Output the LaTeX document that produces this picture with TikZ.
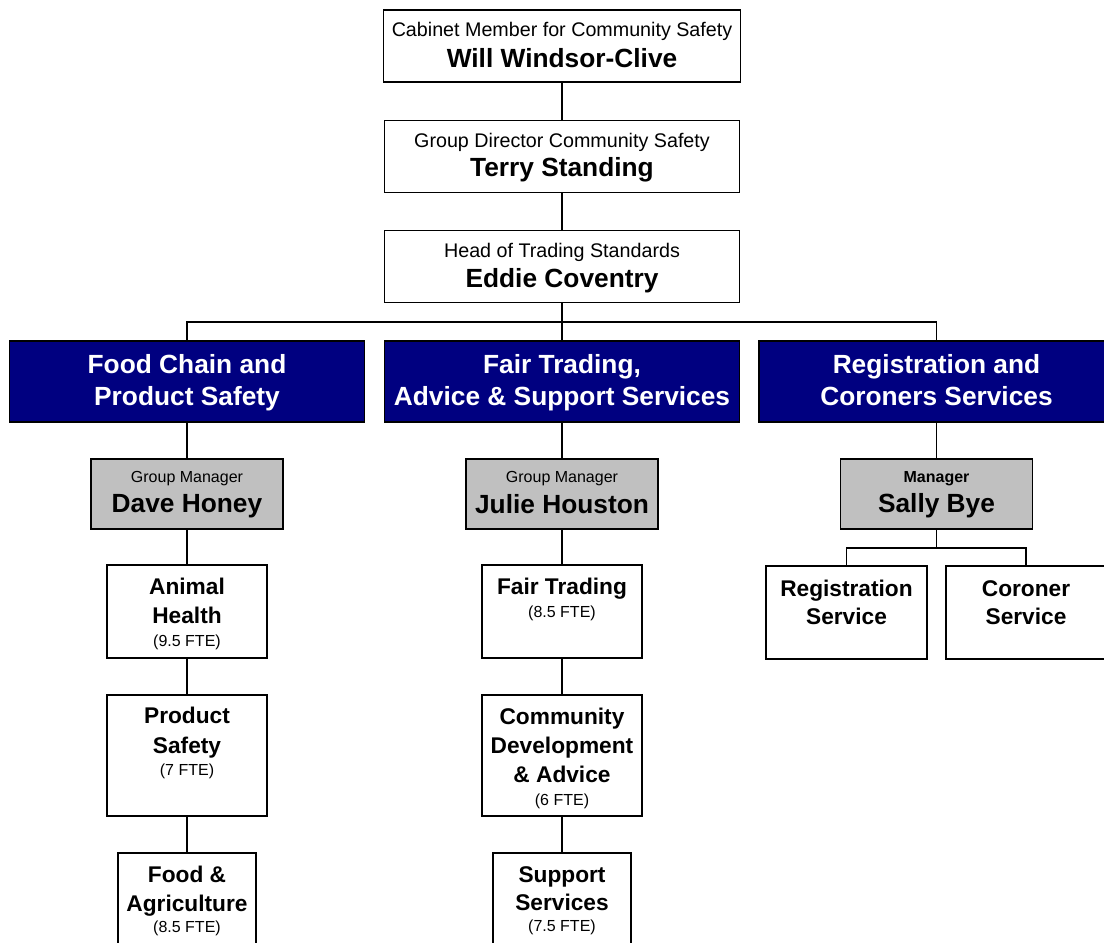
\documentclass[tikz,border=0pt]{standalone}
\usepackage{fontspec}
\setmainfont{Liberation Sans}
\definecolor{navybox}{RGB}{0,0,128}
\definecolor{greybox}{RGB}{192,192,192}
\tikzset{
    box/.style={draw=black, line width=1.1pt, fill=white, inner sep=0pt},
    headbox/.style={box, minimum width=355pt, minimum height=72pt},
    divbox/.style={box, fill=navybox, minimum width=355pt, minimum height=81pt},
    mgrbox/.style={box, fill=greybox, minimum width=192pt, minimum height=70pt},
    unitbox/.style={box, minimum width=160pt, minimum height=93pt},
    conn/.style={line width=1.1pt},
    roletext/.style={anchor=base, font=\fontsize{19.7}{24}\selectfont},
    nametext/.style={anchor=base, font=\fontsize{26.3}{31}\selectfont\bfseries},
    unittext/.style={anchor=base, font=\fontsize{22.7}{28}\selectfont\bfseries},
    ftetext/.style={anchor=base, font=\fontsize{16}{19}\selectfont},
}

\begin{document}
\begin{tikzpicture}[x=1pt, y=-1pt]
    \newcommand\posFood{187}
    \newcommand\posFair{562}
    \newcommand\posReg{936.5}

    \useasboundingbox (0, 0) rectangle (1104, 943);

    % top of the chart
    \node[headbox, minimum width=357pt] (cab) at (\posFair, 46){};
    \node[headbox] (dir) at (\posFair, 156.5){};
    \node[headbox] (head) at (\posFair, 266.5){};

    \node[roletext] (labCab) at (\posFair, 36){Cabinet Member for Community Safety};
    \node[nametext] (nameCab) at (\posFair, 67){Will Windsor-Clive};
    \node[roletext] (labDir) at (\posFair, 147){Group Director Community Safety};
    \node[nametext] (nameDir) at (\posFair, 176){Terry Standing};
    \node[roletext] (labHead) at (\posFair, 257){Head of Trading Standards};
    \node[nametext] (nameHead) at (\posFair, 287){Eddie Coventry};

    % divisions
    \node[divbox] (food) at (\posFood, 381.5){};
    \node[divbox] (fair) at (\posFair, 381.5){};
    \node[divbox] (reg) at (\posReg, 381.5){};

    \node[nametext, text=white] (labFood1) at (\posFood, 373){Food Chain and};
    \node[nametext, text=white] (labFood2) at (\posFood, 405){Product Safety};
    \node[nametext, text=white] (labFair1) at (\posFair, 373){Fair Trading,};
    \node[nametext, text=white] (labFair2) at (\posFair, 405){Advice \& Support Services};
    \node[nametext, text=white] (labReg1) at (\posReg, 373){Registration and};
    \node[nametext, text=white] (labReg2) at (\posReg, 405){Coroners Services};

    % managers
    \node[mgrbox] (dave) at (\posFood, 494){};
    \node[mgrbox] (julie) at (\posFair, 494){};
    \node[mgrbox] (sally) at (\posReg, 494){};

    \node[ftetext] (labDave) at (\posFood, 482){Group Manager};
    \node[nametext] (nameDave) at (\posFood, 512){Dave Honey};
    \node[ftetext] (labJulie) at (\posFair, 482){Group Manager};
    \node[nametext] (nameJulie) at (\posFair, 513){Julie Houston};
    \node[ftetext, font=\fontsize{16}{19}\selectfont\bfseries] (labSally) at (\posReg, 482){Manager};
    \node[nametext] (nameSally) at (\posReg, 512){Sally Bye};

    % teams
    \node[unitbox] (animal) at (\posFood, 611.5){};
    \node[unitbox, minimum height=121pt] (product) at (\posFood, 755.5){};
    \node[unitbox, minimum width=138pt, minimum height=130pt] (agri) at (\posFood, 918){};
    \node[unitbox] (trading) at (\posFair, 611.5){};
    \node[unitbox, minimum height=121pt] (community) at (\posFair, 755.5){};
    \node[unitbox, minimum width=138pt, minimum height=130pt] (support) at (\posFair, 918){};
    \node[unitbox, minimum width=161pt] (regsvc) at (846.5, 612.5){};
    \node[unitbox] (corsvc) at (1026, 612.5){};

    \node[unittext] (labAnimal1) at (\posFood, 594){Animal};
    \node[unittext] (labAnimal2) at (\posFood, 623){Health};
    \node[ftetext] (fteAnimal) at (\posFood, 646){(9.5 FTE)};
    \node[unittext] (labProduct1) at (\posFood, 723){Product};
    \node[unittext] (labProduct2) at (\posFood, 753){Safety};
    \node[ftetext] (fteProduct) at (\posFood, 775){(7 FTE)};
    \node[unittext] (labAgri1) at (\posFood, 882){Food \&};
    \node[unittext] (labAgri2) at (\posFood, 911){Agriculture};
    \node[ftetext] (fteAgri) at (\posFood, 932){(8.5 FTE)};

    \node[unittext] (labTrading) at (\posFair, 594){Fair Trading};
    \node[ftetext] (fteTrading) at (\posFair, 617){(8.5 FTE)};
    \node[unittext] (labCommunity1) at (\posFair, 724){Community};
    \node[unittext] (labCommunity2) at (\posFair, 753){Development};
    \node[unittext] (labCommunity3) at (\posFair, 782){\& Advice};
    \node[ftetext] (fteCommunity) at (\posFair, 805){(6 FTE)};
    \node[unittext] (labSupport1) at (\posFair, 882){Support};
    \node[unittext] (labSupport2) at (\posFair, 910){Services};
    \node[ftetext] (fteSupport) at (\posFair, 931){(7.5 FTE)};

    \node[unittext] (labRegsvc1) at (846.5, 596){Registration};
    \node[unittext] (labRegsvc2) at (846.5, 624){Service};
    \node[unittext] (labCorsvc1) at (1026, 596){Coroner};
    \node[unittext] (labCorsvc2) at (1026, 624){Service};

    % connectors
    \coordinate (bar) at (\posFair, 322);
    \coordinate (sbar) at (\posReg, 548);
    \draw[conn] (cab) -- (dir);
    \draw[conn] (dir) -- (head);
    \draw[conn] (head) -- (bar);
    \draw[conn] (bar) -| (food);
    \draw[conn] (bar) -- (fair);
    \draw[conn] (bar) -| (reg);
    \draw[conn] (food) -- (dave);
    \draw[conn] (fair) -- (julie);
    \draw[conn] (reg) -- (sally);
    \draw[conn] (dave) -- (animal);
    \draw[conn] (animal) -- (product);
    \draw[conn] (product) -- (agri);
    \draw[conn] (julie) -- (trading);
    \draw[conn] (trading) -- (community);
    \draw[conn] (community) -- (support);
    \draw[conn] (sally) -- (sbar);
    \draw[conn] (sbar) -| (regsvc);
    \draw[conn] (sbar) -| (corsvc);
\end{tikzpicture}
\end{document}
